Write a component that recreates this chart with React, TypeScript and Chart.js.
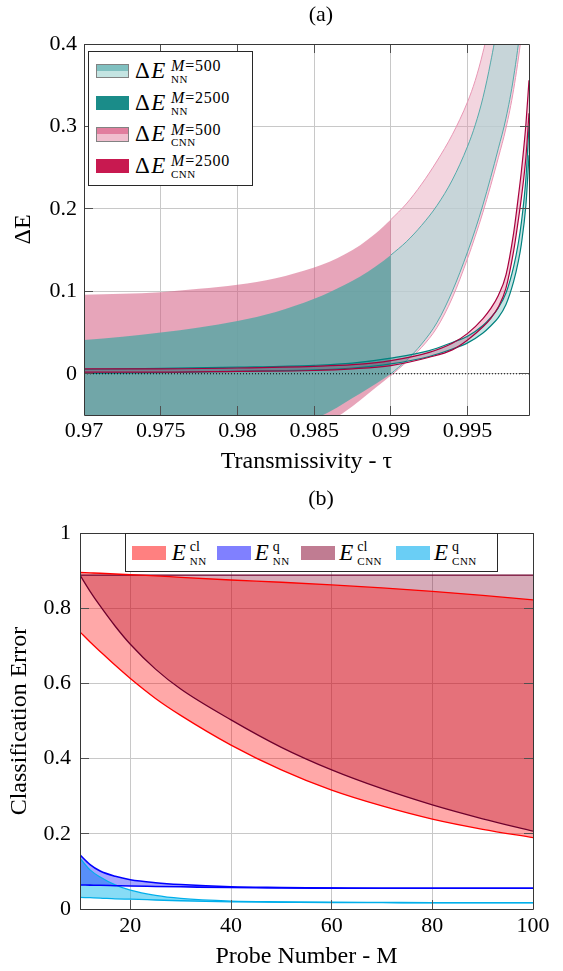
import React, { useEffect, useRef } from 'react';
import { Chart, registerables } from 'chart.js';

Chart.register(...registerables);

const FONT = '"Liberation Serif", "DejaVu Serif", "Noto Serif", serif';

// ---------------- Panel (a) data ----------------
const TAU_TICKS = [0.97, 0.975, 0.98, 0.985, 0.99, 0.995];
const TAU_TICK_LABELS = ['0.97', '0.975', '0.98', '0.985', '0.99', '0.995'];
const DE_TICKS = [0, 0.1, 0.2, 0.3, 0.4];
const DE_TICK_LABELS = ['0', '0.1', '0.2', '0.3', '0.4'];

const TAU_DARK = [0.97, 0.9725, 0.975, 0.9775, 0.98, 0.9825, 0.985, 0.986, 0.987, 0.988, 0.989, 0.99];
const NN500_DARK_LO = [-0.16, -0.145, -0.13, -0.113, -0.096, -0.077, -0.055, -0.046, -0.035, -0.024, -0.0125, 0.0];
const NN500_DARK_HI = [0.041, 0.045, 0.05, 0.056, 0.064, 0.075, 0.091, 0.099, 0.108, 0.118, 0.13, 0.144];
const CNN500_DARK_LO = [-0.22, -0.195, -0.17, -0.145, -0.12, -0.095, -0.069, -0.058, -0.046, -0.032, -0.017, -0.002];
const CNN500_DARK_HI = [0.096, 0.097, 0.099, 0.103, 0.108, 0.116, 0.129, 0.136, 0.145, 0.156, 0.17, 0.187];

const TAU_LIGHT = [0.99, 0.991, 0.992, 0.993, 0.994, 0.995, 0.9955, 0.996, 0.9965, 0.997, 0.9975, 0.998, 0.9985, 0.999];
const NN500_LIGHT_LO = [0.0, 0.016, 0.036, 0.062, 0.1, 0.148, 0.175, 0.205, 0.238, 0.273, 0.31, 0.36, 0.43, 0.53];
const NN500_LIGHT_HI = [0.144, 0.16, 0.18, 0.204, 0.235, 0.276, 0.302, 0.335, 0.378, 0.43, 0.5, 0.6, 0.76, 1.0];
const CNN500_LIGHT_LO = [-0.002, 0.014, 0.032, 0.056, 0.092, 0.14, 0.167, 0.196, 0.228, 0.262, 0.298, 0.345, 0.41, 0.5];
const CNN500_LIGHT_HI = [0.187, 0.206, 0.23, 0.258, 0.29, 0.33, 0.356, 0.39, 0.432, 0.49, 0.57, 0.68, 0.85, 1.1];

const TAU_2500 = [0.97, 0.975, 0.98, 0.985, 0.9875, 0.99, 0.9925, 0.994, 0.995, 0.996, 0.9965, 0.997, 0.9975, 0.998, 0.9983, 0.9985, 0.9988, 0.999];
const NN2500_LO = [0.0005, 0.0015, 0.003, 0.0047, 0.007, 0.012, 0.021, 0.03, 0.0375, 0.0495, 0.058, 0.068, 0.084, 0.112, 0.136, 0.157, 0.205, 0.265];
const NN2500_HI = [0.0055, 0.0065, 0.008, 0.0103, 0.013, 0.019, 0.028, 0.038, 0.0455, 0.0585, 0.068, 0.08, 0.098, 0.13, 0.158, 0.183, 0.237, 0.301];
const CNN2500_LO = [0.002, 0.002, 0.003, 0.004, 0.006, 0.01, 0.02, 0.029, 0.041, 0.057, 0.067, 0.081, 0.104, 0.149, 0.186, 0.213, 0.263, 0.316];
const CNN2500_HI = [0.006, 0.006, 0.007, 0.009, 0.011, 0.016, 0.026, 0.037, 0.049, 0.067, 0.079, 0.095, 0.12, 0.171, 0.214, 0.245, 0.303, 0.356];

const ZERO_X = [0.97, 0.999];
const ZERO_Y = [0, 0];

// ---------------- Panel (b) data ----------------
const M_TICKS = [20, 40, 60, 80, 100];
const M_TICK_LABELS = ['20', '40', '60', '80', '100'];
const ERR_TICKS = [0, 0.2, 0.4, 0.6, 0.8, 1];
const ERR_TICK_LABELS = ['0', '0.2', '0.4', '0.6', '0.8', '1'];

const M_VALUES = [10, 12, 14, 17, 20, 25, 30, 40, 50, 60, 70, 80, 90, 100];
const NN_CL_HI = [0.895, 0.894, 0.893, 0.891, 0.889, 0.886, 0.882, 0.875, 0.869, 0.862, 0.854, 0.845, 0.834, 0.822];
const NN_CL_LO = [0.737, 0.71, 0.685, 0.648, 0.613, 0.56, 0.515, 0.436, 0.37, 0.316, 0.274, 0.239, 0.212, 0.19];
const CNN_CL_HI = [0.888, 0.888, 0.888, 0.888, 0.888, 0.888, 0.888, 0.888, 0.888, 0.888, 0.888, 0.888, 0.888, 0.888];
const CNN_CL_LO = [0.888, 0.845, 0.806, 0.752, 0.704, 0.638, 0.585, 0.503, 0.43, 0.37, 0.32, 0.277, 0.24, 0.207];
const NN_Q_HI = [0.144, 0.118, 0.101, 0.087, 0.078, 0.07, 0.065, 0.059, 0.057, 0.0555, 0.055, 0.055, 0.055, 0.055];
const NN_Q_LO = [0.064, 0.0635, 0.063, 0.062, 0.061, 0.06, 0.059, 0.057, 0.056, 0.0555, 0.055, 0.055, 0.055, 0.055];
const CNN_Q_HI = [0.135, 0.104, 0.085, 0.064, 0.05, 0.036, 0.028, 0.021, 0.019, 0.018, 0.0175, 0.017, 0.017, 0.017];
const CNN_Q_LO = [0.031, 0.03, 0.029, 0.027, 0.026, 0.024, 0.022, 0.019, 0.018, 0.017, 0.0168, 0.0165, 0.0165, 0.0165];

// ---------------- Legends ----------------
const LEGEND_A_SUP = ['=500', '=2500', '=500', '=2500'];
const LEGEND_A_SUB = ['NN', 'NN', 'CNN', 'CNN'];
const LEGEND_A_SWATCH = [
  ['rgb(128,192,192)', 'rgb(196,228,226)'],
  ['rgb(26,140,137)', 'rgb(26,140,137)'],
  ['rgb(225,126,158)', 'rgb(240,190,206)'],
  ['rgb(200,25,80)', 'rgb(200,25,80)'],
];
const LEGEND_A_BORDER = [true, false, true, false];

const LEGEND_B_SUP = ['cl', 'q', 'cl', 'q'];
const LEGEND_B_SUB = ['NN', 'NN', 'CNN', 'CNN'];
const LEGEND_B_COLORS = ['rgb(255,128,128)', 'rgb(128,128,255)', 'rgb(192,124,146)', 'rgb(106,206,245)'];

const pts = (xs: number[], ys: number[]) => xs.map((x, i) => ({ x, y: ys[i] }));
const al = (p: number) => Math.round(p - 0.5) + 0.5;

const frameTicks = {
  id: 'frameTicks',
  afterDatasetsDraw(chart: any) {
    const { ctx, chartArea: a, scales } = chart;
    const L = 9;
    ctx.save();
    ctx.lineWidth = 1;
    ctx.strokeStyle = 'rgb(80,80,80)';
    ctx.beginPath();
    for (const t of scales.x.ticks) {
      const p = al(scales.x.getPixelForValue(t.value));
      ctx.moveTo(p, a.bottom);
      ctx.lineTo(p, a.bottom - L);
      ctx.moveTo(p, a.top);
      ctx.lineTo(p, a.top + L);
    }
    for (const t of scales.y.ticks) {
      const p = al(scales.y.getPixelForValue(t.value));
      ctx.moveTo(a.left, p);
      ctx.lineTo(a.left + L, p);
      ctx.moveTo(a.right, p);
      ctx.lineTo(a.right - L, p);
    }
    ctx.stroke();
    ctx.strokeStyle = 'rgb(55,55,55)';
    ctx.beginPath();
    const l = al(a.left), r = al(a.right), t = al(a.top), b = al(a.bottom);
    ctx.rect(l, t, r - l, b - t);
    ctx.stroke();
    ctx.restore();
  },
};

const band = (xs: number[], lo: number[], hi: number[], hiIndex: number, fillColor: string, lineColor: string, lw: number, label: string) => [
  {
    label: label + ' upper',
    data: pts(xs, hi),
    borderColor: lw > 0 ? lineColor : 'transparent',
    borderWidth: lw,
    backgroundColor: fillColor,
    fill: { target: hiIndex + 1 },
    pointRadius: 0,
  },
  {
    label: label + ' lower',
    data: pts(xs, lo),
    borderColor: lw > 0 ? lineColor : 'transparent',
    borderWidth: lw,
    backgroundColor: fillColor,
    fill: false,
    pointRadius: 0,
  },
];

const tickFont = { family: FONT, size: 22, style: 'normal' as const, weight: 'normal' as const };
const titleFont = { family: FONT, size: 24, style: 'normal' as const, weight: 'normal' as const };

function baseOptions(): any {
  return {
    animation: false,
    responsive: false,
    devicePixelRatio: 1,
    elements: { line: { cubicInterpolationMode: 'monotone', capBezierPoints: false }, point: { radius: 0 } },
    plugins: {
      legend: { display: false },
      tooltip: { enabled: false },
      title: { display: false },
      filler: { drawTime: 'beforeDatasetsDraw' },
    },
  };
}

function makeOptionsA(): any {
  return {
    ...baseOptions(),
    layout: { padding: { left: 0, right: 34, top: 44, bottom: 0 } },
    scales: {
      x: {
        type: 'linear',
        min: 0.97,
        max: 0.999,
        afterBuildTicks: (s: any) => { s.ticks = TAU_TICKS.map((v) => ({ value: v })); },
        afterFit: (s: any) => { s.height = 67; },
        grid: { color: 'rgb(200,200,200)', lineWidth: 1, drawTicks: false },
        border: { display: false },
        ticks: { padding: 3, color: '#000', font: tickFont, maxRotation: 0, autoSkip: false, callback: (_v: any, i: number) => TAU_TICK_LABELS[i] },
        title: { display: true, text: 'Transmissivity - τ', color: '#000', font: titleFont, padding: { top: 0, bottom: 6 } },
      },
      y: {
        type: 'linear',
        min: -0.05,
        max: 0.4,
        afterBuildTicks: (s: any) => { s.ticks = DE_TICKS.map((v) => ({ value: v })); },
        afterFit: (s: any) => { s.width = 84; },
        grid: { color: 'rgb(200,200,200)', lineWidth: 1, drawTicks: false },
        border: { display: false },
        ticks: { padding: 7, color: '#000', font: tickFont, autoSkip: false, callback: (_v: any, i: number) => DE_TICK_LABELS[i] },
        title: { display: true, text: 'ΔE', color: '#000', font: titleFont, padding: { top: 9, bottom: 0 } },
      },
    },
  };
}

function makeOptionsB(): any {
  return {
    ...baseOptions(),
    layout: { padding: { left: 0, right: 30, top: 51, bottom: 0 } },
    scales: {
      x: {
        type: 'linear',
        min: 10,
        max: 100,
        afterBuildTicks: (s: any) => { s.ticks = M_TICKS.map((v) => ({ value: v })); },
        afterFit: (s: any) => { s.height = 62; },
        grid: { color: 'rgb(200,200,200)', lineWidth: 1, drawTicks: false },
        border: { display: false },
        ticks: { padding: 4.5, color: '#000', font: tickFont, maxRotation: 0, autoSkip: false, callback: (_v: any, i: number) => M_TICK_LABELS[i] },
        title: { display: true, text: 'Probe Number - M', color: '#000', font: titleFont, padding: { top: 0, bottom: 0 } },
      },
      y: {
        type: 'linear',
        min: 0,
        max: 1,
        afterBuildTicks: (s: any) => { s.ticks = ERR_TICKS.map((v) => ({ value: v })); },
        afterFit: (s: any) => { s.width = 80; },
        grid: { color: 'rgb(200,200,200)', lineWidth: 1, drawTicks: false },
        border: { display: false },
        ticks: { padding: 9, color: '#000', font: tickFont, autoSkip: false, callback: (_v: any, i: number) => ERR_TICK_LABELS[i] },
        title: { display: true, text: 'Classification Error', color: '#000', font: titleFont, padding: { top: 5, bottom: 0 } },
      },
    },
  };
}

function datasetsA(): any[] {
  const ds: any[] = [];
  ds.push({ label: 'zero', data: pts(ZERO_X, ZERO_Y), borderColor: '#000', borderWidth: 1, borderDash: [1, 2], fill: false, pointRadius: 0 });
  ds.push(...band(TAU_2500, CNN2500_LO, CNN2500_HI, 1, 'rgba(200,20,80,0.22)', 'rgb(168,0,62)', 1.2, 'ΔE CNN M=2500'));
  ds.push(...band(TAU_2500, NN2500_LO, NN2500_HI, 3, 'rgba(0,128,128,0.22)', 'rgb(0,130,127)', 1.2, 'ΔE NN M=2500'));
  ds.push(...band(TAU_LIGHT, NN500_LIGHT_LO, NN500_LIGHT_HI, 5, 'rgba(179,212,213,0.7)', 'rgb(70,165,165)', 0.9, 'ΔE NN M=500 (τ>0.99)'));
  ds.push(...band(TAU_DARK, NN500_DARK_LO, NN500_DARK_HI, 7, 'rgba(93,167,166,0.85)', 'transparent', 0, 'ΔE NN M=500'));
  ds.push(...band(TAU_LIGHT, CNN500_LIGHT_LO, CNN500_LIGHT_HI, 9, 'rgba(225,150,175,0.4)', 'rgb(232,150,180)', 1, 'ΔE CNN M=500 (τ>0.99)'));
  ds.push(...band(TAU_DARK, CNN500_DARK_LO, CNN500_DARK_HI, 11, 'rgba(211,91,130,0.55)', 'transparent', 0, 'ΔE CNN M=500'));
  return ds;
}

function datasetsB(): any[] {
  const ds: any[] = [];
  ds.push(...band(M_VALUES, NN_Q_LO, NN_Q_HI, 0, 'rgba(0,0,255,0.35)', 'rgb(0,0,255)', 1.6, 'E NN q'));
  ds.push(...band(M_VALUES, CNN_Q_LO, CNN_Q_HI, 2, 'rgba(0,180,235,0.47)', 'rgb(0,175,235)', 1.3, 'E CNN q'));
  ds.push(...band(M_VALUES, NN_CL_LO, NN_CL_HI, 4, 'rgba(255,0,0,0.34)', 'rgb(255,0,0)', 1.3, 'E NN cl'));
  ds.push(...band(M_VALUES, CNN_CL_LO, CNN_CL_HI, 6, 'rgba(135,0,41,0.33)', 'rgb(110,0,45)', 1.3, 'E CNN cl'));
  return ds;
}

const K = 0.8375; // baseline offset factor for line-height = font-size

function Txt({ left, baseline, size, children, style }: any) {
  return (
    <div
      style={{
        position: 'absolute',
        left,
        top: baseline - K * size,
        fontSize: size,
        lineHeight: size + 'px',
        fontFamily: FONT,
        whiteSpace: 'nowrap',
        color: '#000',
        ...(style || {}),
      }}
    >
      {children}
    </div>
  );
}

function LegendA() {
  const rows = LEGEND_A_SUP.map((sup, i) => {
    const base = 78.3 + 31.7 * i;
    const sw = LEGEND_A_SWATCH[i];
    const border = LEGEND_A_BORDER[i];
    return (
      <React.Fragment key={i}>
        <div
          style={{
            position: 'absolute',
            left: 96,
            top: base - 14.3,
            width: 33,
            height: 14.3,
            boxSizing: 'border-box',
            border: border ? '1px solid rgb(130,130,130)' : 'none',
            background: `linear-gradient(${sw[0]} 0%, ${sw[0]} 50%, ${sw[1]} 50%, ${sw[1]} 100%)`,
          }}
        />
        <Txt left={135} baseline={base} size={23} style={{ letterSpacing: '1.5px' }}>
          Δ<i>E</i>
        </Txt>
        <Txt left={171} baseline={base - 6.6} size={16} style={{ letterSpacing: '0.8px' }}>
          <i>M</i>
          {sup}
        </Txt>
        <Txt left={171} baseline={base + 5} size={11} style={{ letterSpacing: '0.5px' }}>
          {LEGEND_A_SUB[i]}
        </Txt>
      </React.Fragment>
    );
  });
  return (
    <>
      <div
        style={{
          position: 'absolute',
          left: 88,
          top: 51,
          width: 165,
          height: 135,
          boxSizing: 'border-box',
          border: '1px solid rgb(40,40,40)',
          background: '#fff',
        }}
      />
      {rows}
    </>
  );
}

function LegendB() {
  const swLeft = [132.4, 216.5, 301.4, 395.5];
  const eLeft = [171.8, 254.8, 339.3, 434.1];
  const base = 560;
  return (
    <>
      <div
        style={{
          position: 'absolute',
          left: 125,
          top: 533,
          width: 373,
          height: 39,
          boxSizing: 'border-box',
          border: '1px solid rgb(40,40,40)',
          background: '#fff',
        }}
      />
      {LEGEND_B_SUP.map((sup, i) => (
        <React.Fragment key={i}>
          <div
            style={{
              position: 'absolute',
              left: swLeft[i],
              top: base - 14,
              width: 34,
              height: 14,
              background: LEGEND_B_COLORS[i],
            }}
          />
          <Txt left={eLeft[i]} baseline={base} size={23}>
            <i>E</i>
          </Txt>
          <Txt left={eLeft[i] + 18} baseline={base - 8.3} size={14}>
            {sup}
          </Txt>
          <Txt left={eLeft[i] + 18} baseline={base + 5} size={11} style={{ letterSpacing: '0.5px' }}>
            {LEGEND_B_SUB[i]}
          </Txt>
        </React.Fragment>
      ))}
    </>
  );
}

export default function App() {
  const refA = useRef<HTMLCanvasElement | null>(null);
  const refB = useRef<HTMLCanvasElement | null>(null);

  useEffect(() => {
    Chart.defaults.font.family = FONT;
    let alive = true;
    const a = new Chart(refA.current as HTMLCanvasElement, {
      type: 'line',
      data: { datasets: datasetsA() },
      options: makeOptionsA(),
      plugins: [frameTicks],
    } as any);
    const b = new Chart(refB.current as HTMLCanvasElement, {
      type: 'line',
      data: { datasets: datasetsB() },
      options: makeOptionsB(),
      plugins: [frameTicks],
    } as any);
    const redraw = () => {
      if (!alive) return;
      a.update();
      b.update();
    };
    if ((document as any).fonts) {
      (document as any).fonts.ready.then(redraw);
    }
    return () => {
      alive = false;
      a.destroy();
      b.destroy();
    };
  }, []);

  return (
    <div style={{ position: 'absolute', left: 0, top: 0, width: 563, height: 971, background: '#fff', overflow: 'hidden' }}>
      <canvas ref={refA} width={563} height={482} style={{ position: 'absolute', left: 0, top: 0 }} />
      <canvas ref={refB} width={563} height={489} style={{ position: 'absolute', left: 0, top: 482 }} />
      <div style={{ position: 'absolute', left: 281, top: 3, width: 80, textAlign: 'center', fontFamily: FONT, fontSize: 22, lineHeight: '22px' }}>
        (a)
      </div>
      <div style={{ position: 'absolute', left: 281, top: 487, width: 80, textAlign: 'center', fontFamily: FONT, fontSize: 22, lineHeight: '22px' }}>
        (b)
      </div>
      <LegendA />
      <LegendB />
    </div>
  );
}
